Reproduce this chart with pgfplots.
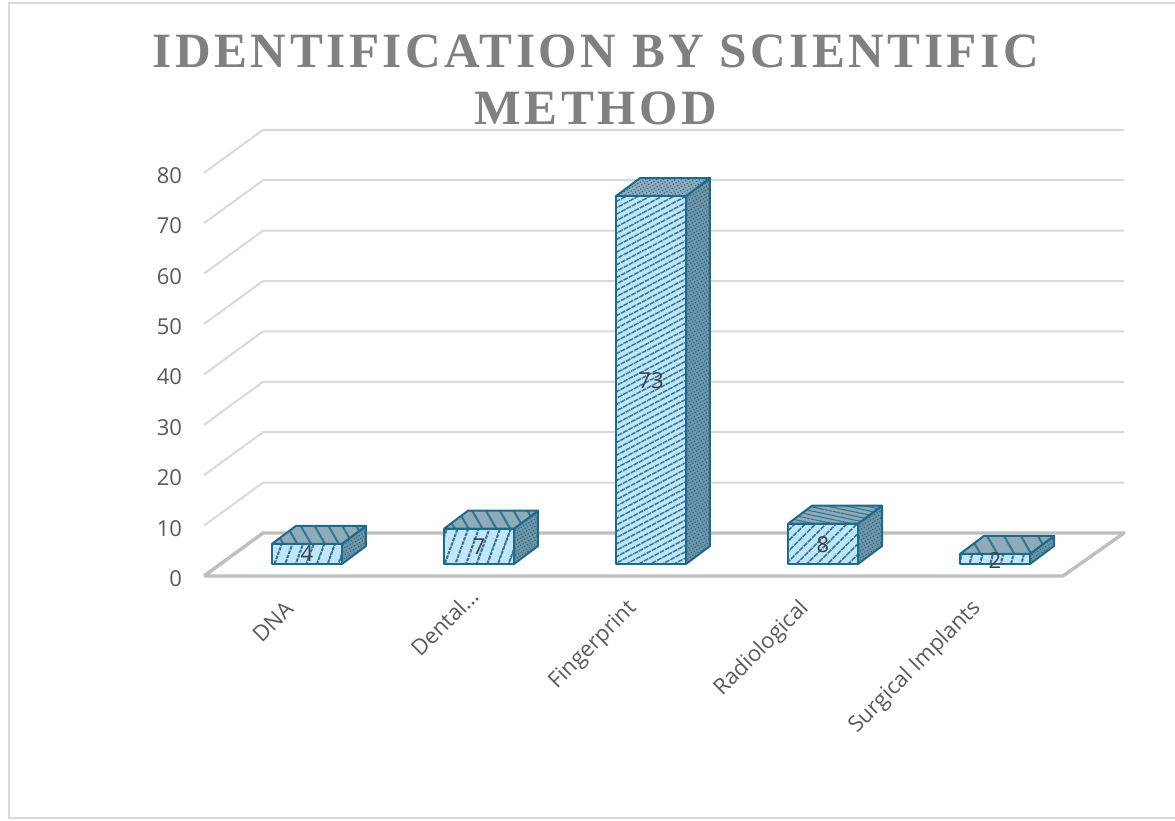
\documentclass[border=0pt]{standalone}
\usepackage{fontspec}
\setmainfont{Open Sans}
\newfontfamily\titlefont[LetterSpace=7]{Liberation Serif}
\usepackage{pgfplots}
\pgfplotsset{compat=1.18}
\usetikzlibrary{patterns,patterns.meta}
\definecolor{barline}{HTML}{1F6A8A}
\definecolor{barfront}{HTML}{BFE6F8}
\definecolor{bartop}{HTML}{8FAAB8}
\definecolor{barside}{HTML}{6F93A5}
\definecolor{barhatch}{HTML}{2F7594}
\definecolor{griddy}{HTML}{D9D9D9}
\definecolor{floorc}{HTML}{BFBFBF}
\definecolor{txt}{HTML}{595959}
\tikzset{
  ln/.style n args={3}{pattern={Lines[angle=#1,distance=#2,line width=#3]},pattern color=barhatch,
    draw=barline,line width=1.5pt,line join=round},
  dt/.style={pattern={Dots[angle=30,distance=2.3pt,radius=.6pt]},pattern color=barline,
    draw=barline,line width=1.5pt,line join=round},
  bg/.style={fill=#1,draw=none},
  hatchonly/.style n args={3}{pattern={Lines[angle=#1,distance=#2,line width=#3]},pattern color=barhatch,draw=none},
  breaks/.style n args={3}{pattern={Lines[angle=#1,distance=#2,line width=#3]},pattern color=barfront,draw=none},
  outline/.style={draw=barline,fill=none,line width=1.5pt,line join=round},
  frontbar/.style={ybar,bar width=52.5pt,bar shift=0pt},
}
% one face: solid ground colour, then pattern and outline over it
\newcommand\face[3]{\addplot[#1] coordinates {#3}; \addplot[#2] coordinates {#3};}
% a front: ground, hatch, thin breaks across the hatch, outline
\newcommand\frontface[3]{%
  \addplot[frontbar,bg=barfront] coordinates {#3};
  \addplot[frontbar,hatchonly=#1] coordinates {#3};
  \addplot[frontbar,breaks=#2] coordinates {#3};
  \addplot[frontbar,outline] coordinates {#3};}
\pgfplotsset{common/.style={
  scale only axis,width=690pt,height=334.5pt,
  xmin=-0.5988,xmax=4.75,clip=false}}
\begin{document}
\begin{tikzpicture}
\useasboundingbox (-153pt,-183.75pt) rectangle (728.25pt,432pt);
% chart frame (px: x=8.5, top y=3, bottom y=818; open at the right)
\draw[griddy,line width=1.5pt] (728.25pt,429.75pt) -- (-146.6pt,429.75pt) -- (-146.6pt,-181.5pt) -- (728.25pt,-181.5pt);
\begin{axis}[common,
  ymin=0,ymax=88.5,
  axis line style={draw=none},tick style={draw=none},
  ytick={0,10,20,30,40,50,60,70,80},
  xtick={0,1,2,3,4},
  xticklabels={DNA,{Dental…\hspace*{-14pt}},Fingerprint,Radiological,Surgical Implants},
  /pgf/number format/assume math mode=true,
  tick label style={font=\fontsize{16.5}{20}\selectfont,text=txt},
  yticklabel style={anchor=east,xshift=-13pt,yshift=-2pt},
  xticklabel style={rotate=45,anchor=east,xshift=-21.5pt,yshift=-6.1pt},
  title={IDENTIFICATION BY SCIENTIFIC\\METHOD},
  title style={at={(0.426,1)},anchor=south,yshift=-6pt,align=center,
    font=\titlefont\bfseries\fontsize{37}{42.75}\selectfont,text=black!50},
]
\addplot[griddy,line width=1.5pt] coordinates {(-0.5988,10) (-0.2558,18.53) (4.75,18.53)};
\addplot[griddy,line width=1.5pt] coordinates {(-0.5988,20) (-0.2558,28.53) (4.75,28.53)};
\addplot[griddy,line width=1.5pt] coordinates {(-0.5988,30) (-0.2558,38.53) (4.75,38.53)};
\addplot[griddy,line width=1.5pt] coordinates {(-0.5988,40) (-0.2558,48.53) (4.75,48.53)};
\addplot[griddy,line width=1.5pt] coordinates {(-0.5988,50) (-0.2558,58.53) (4.75,58.53)};
\addplot[griddy,line width=1.5pt] coordinates {(-0.5988,60) (-0.2558,68.53) (4.75,68.53)};
\addplot[griddy,line width=1.5pt] coordinates {(-0.5988,70) (-0.2558,78.53) (4.75,78.53)};
\addplot[griddy,line width=1.5pt] coordinates {(-0.5988,80) (-0.2558,88.53) (4.75,88.53)};
\addplot[floorc,line width=2.6pt,line join=round] coordinates {(-0.5988,0) (-0.2558,8.53) (4.75,8.53) (4.395,0) (-0.5988,0)};
\end{axis}
\begin{axis}[common,hide axis,ymin=-2.38,ymax=86.12]
% side faces
\face{bg=barside}{dt}{(0.2035,0) (0.343,3.57) (0.343,7.57) (0.2035,4) (0.2035,0)}
\face{bg=barside}{dt}{(1.2035,0) (1.343,3.57) (1.343,10.57) (1.2035,7) (1.2035,0)}
\face{bg=barside}{dt}{(2.2035,0) (2.343,3.57) (2.343,76.57) (2.2035,73) (2.2035,0)}
\face{bg=barside}{dt}{(3.2035,0) (3.343,3.57) (3.343,11.57) (3.2035,8) (3.2035,0)}
\face{bg=barside}{dt}{(4.2035,0) (4.343,3.57) (4.343,5.57) (4.2035,2) (4.2035,0)}
% top faces
\face{bg=bartop}{ln={-60}{9pt}{1.5pt}}{(-0.2035,4) (0.2035,4) (0.343,7.57) (-0.064,7.57) (-0.2035,4)}
\face{bg=bartop}{ln={-60}{9pt}{1.5pt}}{(0.7965,7) (1.2035,7) (1.343,10.57) (0.936,10.57) (0.7965,7)}
\face{bg=bartop}{dt}{(1.7965,73) (2.2035,73) (2.343,76.57) (1.936,76.57) (1.7965,73)}
\face{bg=bartop}{ln={-12}{3pt}{.8pt}}{(2.7965,8) (3.2035,8) (3.343,11.57) (2.936,11.57) (2.7965,8)}
\face{bg=bartop}{ln={-60}{11pt}{1.5pt}}{(3.7965,2) (4.2035,2) (4.343,5.57) (3.936,5.57) (3.7965,2)}
% front faces: the values
\frontface{{70}{7.5pt}{1.5pt}}{{-20}{4pt}{.7pt}}{(0,4)}
\frontface{{70}{7.5pt}{1.5pt}}{{-20}{4pt}{.7pt}}{(1,7)}
\frontface{{28}{4.2pt}{1.1pt}}{{-62}{4.5pt}{.55pt}}{(2,73)}
\frontface{{45}{5.5pt}{1.2pt}}{{-45}{4.5pt}{.6pt}}{(3,8)}
\frontface{{75}{7.5pt}{1.5pt}}{{-15}{4pt}{.7pt}}{(4,2)}
% data labels
\addplot[draw=none,mark=none,nodes near coords,nodes near coords align={anchor=center},
  point meta=explicit symbolic,
  every node near coord/.style={font=\fontsize{16.5}{20}\selectfont,text=black!75,anchor=center,inner sep=0pt}]
  coordinates {(0,2)[4] (1,3.4)[7] (2,36.3)[73] (3,3.8)[8] (4,0.6)[2]};
\end{axis}
\end{tikzpicture}
\end{document}
